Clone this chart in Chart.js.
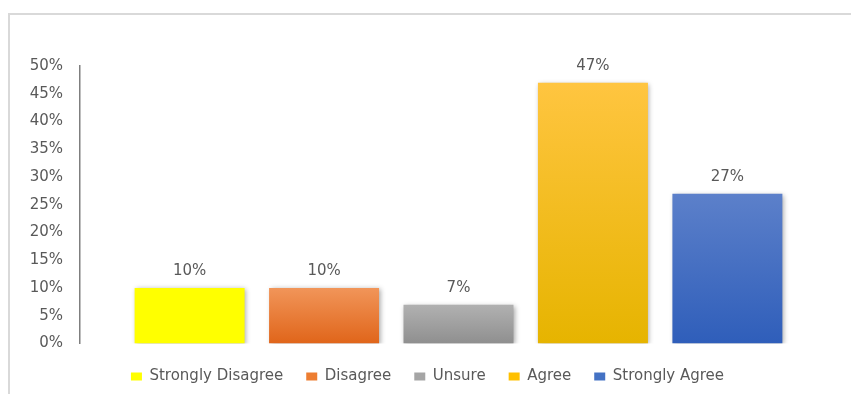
<!DOCTYPE html>
<html>
<head>
<meta charset="utf-8">
<script src="https://cdn.jsdelivr.net/npm/chart.js@4.4.1/dist/chart.umd.min.js"></script>
<style>
  html, body { margin: 0; background: #fff; overflow: hidden; }
  #frame {
    position: absolute; left: 8px; top: 13px; width: 841px; height: 379px;
    border-top: 2px solid #d9d9d9; border-left: 2px solid #d9d9d9;
  }
  #wrap { position: absolute; left: 0; top: 0; width: 851px; height: 394px; }
</style>
</head>
<body>
<div id="frame"></div>
<div id="wrap"><canvas id="barChart"></canvas></div>
<script>
// survey answers, one bar per answer
const answers = ['Strongly Disagree', 'Disagree', 'Unsure', 'Agree', 'Strongly Agree'];
const percentages = [10, 10, 7, 47, 27];
const yTicks = [0, 5, 10, 15, 20, 25, 30, 35, 40, 45, 50];

// top / bottom colour of each bar's fill, plus the legend swatch colour
const topColors = ['#ffff00', '#f19559', '#b1b1b1', '#ffc540', '#5c80ca'];
const bottomColors = ['#ffff00', '#e0651a', '#8f8f8f', '#e6b400', '#2f5eba'];
const swatchColors = ['#ffff00', '#ed7d31', '#a5a5a5', '#ffc000', '#4472c4'];

const textColor = '#595959';
const fontFamily = '"DejaVu Sans", sans-serif';

function barFill(context) {
    const i = context.datasetIndex;
    const chart = context.chart;
    const y = chart.scales.y;
    if (!chart.chartArea || !y) {
        return swatchColors[i];
    }
    const g = chart.ctx.createLinearGradient(0, y.getPixelForValue(percentages[i]), 0, y.getPixelForValue(0));
    g.addColorStop(0, topColors[i]);
    g.addColorStop(1, bottomColors[i]);
    return g;
}

// soft drop shadow under the bars
const barShadow = {
    id: 'barShadow',
    beforeDatasetsDraw(chart) {
        const ctx = chart.ctx;
        ctx.save();
        ctx.shadowColor = 'rgba(0,0,0,0.35)';
        ctx.shadowBlur = 5;
        ctx.shadowOffsetX = 1.5;
        ctx.shadowOffsetY = 1;
    },
    afterDatasetsDraw(chart) {
        chart.ctx.restore();
    }
};

// percentage written above each bar
const valueLabels = {
    id: 'valueLabels',
    afterDatasetsDraw(chart) {
        const ctx = chart.ctx;
        ctx.save();
        ctx.font = '15px ' + fontFamily;
        ctx.fillStyle = textColor;
        ctx.textAlign = 'center';
        ctx.textBaseline = 'middle';
        chart.data.datasets.forEach((ds, i) => {
            const bar = chart.getDatasetMeta(i).data[0];
            ctx.fillText(ds.data[0] + '%', bar.x, bar.y - 17);
        });
        ctx.restore();
    }
};

const ctx = document.getElementById('barChart');

const datasets = answers.map((name, i) => ({
    label: name,
    data: [percentages[i]],
    backgroundColor: barFill,
    legendColor: swatchColors[i],
    borderWidth: 0,
    categoryPercentage: 0.888,
    barPercentage: 0.818
}));

window.chart = new Chart(ctx, {
    type: 'bar',
    data: {
        labels: [''],
        datasets: datasets
    },
    plugins: [barShadow, valueLabels],
    options: {
        responsive: true,
        maintainAspectRatio: false,
        animation: false,
        layout: {
            padding: { top: 66, right: 14, bottom: 0, left: 18 }
        },
        plugins: {
            tooltip: { enabled: false },
            legend: {
                position: 'bottom',
                labels: {
                    boxWidth: 11,
                    boxHeight: 8,
                    padding: 23,
                    color: textColor,
                    font: { family: fontFamily, size: 15 },
                    generateLabels(chart) {
                        return chart.data.datasets.map((ds, i) => ({
                            text: ds.label,
                            fillStyle: ds.legendColor,
                            strokeStyle: ds.legendColor,
                            lineWidth: 0,
                            fontColor: textColor,
                            hidden: false,
                            datasetIndex: i
                        }));
                    }
                }
            }
        },
        scales: {
            x: {
                display: true,
                grid: { display: false, drawTicks: false },
                border: { display: false },
                ticks: { display: false },
                afterFit(scale) { scale.height = 2.5; }
            },
            y: {
                min: yTicks[0],
                max: yTicks[yTicks.length - 1],
                grid: { display: false, drawTicks: false },
                border: { display: true, color: '#7f7f7f', width: 1.5 },
                afterBuildTicks(scale) {
                    scale.ticks = yTicks.map(v => ({ value: v }));
                },
                ticks: {
                    padding: 17,
                    color: textColor,
                    font: { family: fontFamily, size: 15 },
                    callback: v => v + '%'
                },
                afterFit(scale) { scale.width = 62; }
            }
        }
    }
});
</script>
</body>
</html>
